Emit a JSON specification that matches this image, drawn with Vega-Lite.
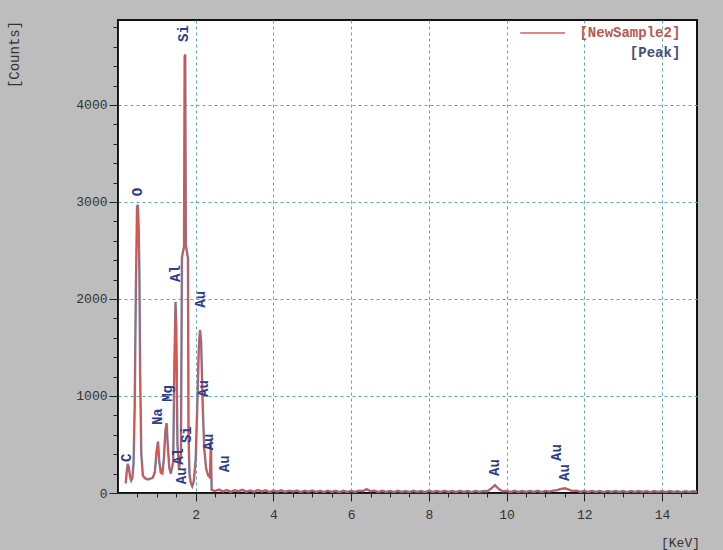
{
  "$schema": "https://vega.github.io/schema/vega-lite/v6.json",
  "autosize": "none",
  "width": 579,
  "height": 473,
  "padding": {"left": 118, "top": 20, "right": 26, "bottom": 57},
  "background": "#bdbdbd",
  "config": {
    "view": {"fill": "#ffffff", "stroke": "#111111", "strokeWidth": 2},
    "axis": {
      "labelFont": "Liberation Mono",
      "labelFontSize": 13,
      "labelColor": "#333333",
      "labelOverlap": false,
      "titleFont": "Liberation Mono",
      "titleFontSize": 14,
      "titleFontWeight": "normal",
      "titleColor": "#333333",
      "domainColor": "#222222",
      "tickColor": "#222222",
      "gridColor": "#5aa6c8",
      "gridDash": [3, 3],
      "gridWidth": 1
    }
  },
  "datasets": {
    "spectrum": [
      {"keV": 0.20, "counts": 100}, {"keV": 0.22, "counts": 200}, {"keV": 0.25, "counts": 300},
      {"keV": 0.28, "counts": 260}, {"keV": 0.31, "counts": 170}, {"keV": 0.34, "counts": 130},
      {"keV": 0.37, "counts": 160}, {"keV": 0.40, "counts": 300}, {"keV": 0.43, "counts": 900},
      {"keV": 0.46, "counts": 2100}, {"keV": 0.49, "counts": 2950}, {"keV": 0.51, "counts": 2970},
      {"keV": 0.53, "counts": 2750}, {"keV": 0.55, "counts": 2300}, {"keV": 0.57, "counts": 1200},
      {"keV": 0.60, "counts": 400}, {"keV": 0.64, "counts": 180}, {"keV": 0.70, "counts": 150},
      {"keV": 0.78, "counts": 140}, {"keV": 0.85, "counts": 150}, {"keV": 0.90, "counts": 160},
      {"keV": 0.95, "counts": 220}, {"keV": 0.99, "counts": 420}, {"keV": 1.03, "counts": 530},
      {"keV": 1.06, "counts": 330}, {"keV": 1.10, "counts": 210}, {"keV": 1.14, "counts": 200},
      {"keV": 1.18, "counts": 350}, {"keV": 1.22, "counts": 640}, {"keV": 1.25, "counts": 720},
      {"keV": 1.28, "counts": 500}, {"keV": 1.32, "counts": 260}, {"keV": 1.36, "counts": 200},
      {"keV": 1.42, "counts": 320}, {"keV": 1.45, "counts": 1300}, {"keV": 1.48, "counts": 1970},
      {"keV": 1.50, "counts": 1700}, {"keV": 1.53, "counts": 500}, {"keV": 1.57, "counts": 250},
      {"keV": 1.62, "counts": 400}, {"keV": 1.645, "counts": 2430}, {"keV": 1.70, "counts": 2540},
      {"keV": 1.715, "counts": 4500}, {"keV": 1.73, "counts": 4520}, {"keV": 1.745, "counts": 2560},
      {"keV": 1.80, "counts": 2420}, {"keV": 1.815, "counts": 600}, {"keV": 1.84, "counts": 200},
      {"keV": 1.87, "counts": 110}, {"keV": 1.91, "counts": 70}, {"keV": 1.95, "counts": 120},
      {"keV": 2.00, "counts": 350}, {"keV": 2.04, "counts": 900}, {"keV": 2.08, "counts": 1500},
      {"keV": 2.11, "counts": 1680}, {"keV": 2.14, "counts": 1550}, {"keV": 2.18, "counts": 900},
      {"keV": 2.22, "counts": 450}, {"keV": 2.27, "counts": 250}, {"keV": 2.32, "counts": 180},
      {"keV": 2.37, "counts": 160}, {"keV": 2.39, "counts": 560}, {"keV": 2.41, "counts": 30},
      {"keV": 2.5, "counts": 22}, {"keV": 2.6, "counts": 35}, {"keV": 2.7, "counts": 15},
      {"keV": 2.8, "counts": 30}, {"keV": 2.9, "counts": 12}, {"keV": 3.0, "counts": 28},
      {"keV": 3.1, "counts": 18}, {"keV": 3.2, "counts": 32}, {"keV": 3.3, "counts": 14},
      {"keV": 3.4, "counts": 26}, {"keV": 3.5, "counts": 12}, {"keV": 3.6, "counts": 30},
      {"keV": 3.7, "counts": 16}, {"keV": 3.8, "counts": 27}, {"keV": 3.9, "counts": 10},
      {"keV": 4.0, "counts": 25}, {"keV": 4.1, "counts": 14}, {"keV": 4.2, "counts": 28},
      {"keV": 4.3, "counts": 12}, {"keV": 4.4, "counts": 24}, {"keV": 4.5, "counts": 15},
      {"keV": 4.6, "counts": 26}, {"keV": 4.7, "counts": 10}, {"keV": 4.8, "counts": 24},
      {"keV": 4.9, "counts": 13}, {"keV": 5.0, "counts": 25}, {"keV": 5.1, "counts": 12},
      {"keV": 5.2, "counts": 22}, {"keV": 5.3, "counts": 10}, {"keV": 5.4, "counts": 24},
      {"keV": 5.5, "counts": 12}, {"keV": 5.6, "counts": 22}, {"keV": 5.7, "counts": 9},
      {"keV": 5.8, "counts": 23}, {"keV": 5.9, "counts": 12}, {"keV": 6.0, "counts": 22},
      {"keV": 6.1, "counts": 11}, {"keV": 6.2, "counts": 24}, {"keV": 6.3, "counts": 20},
      {"keV": 6.4, "counts": 40}, {"keV": 6.5, "counts": 18}, {"keV": 6.6, "counts": 24},
      {"keV": 6.7, "counts": 10}, {"keV": 6.8, "counts": 22}, {"keV": 6.9, "counts": 12},
      {"keV": 7.0, "counts": 21}, {"keV": 7.1, "counts": 9}, {"keV": 7.2, "counts": 22},
      {"keV": 7.3, "counts": 11}, {"keV": 7.4, "counts": 20}, {"keV": 7.5, "counts": 10},
      {"keV": 7.6, "counts": 23}, {"keV": 7.7, "counts": 12}, {"keV": 7.8, "counts": 20},
      {"keV": 7.9, "counts": 9}, {"keV": 8.0, "counts": 22}, {"keV": 8.1, "counts": 11},
      {"keV": 8.2, "counts": 21}, {"keV": 8.3, "counts": 10}, {"keV": 8.4, "counts": 22},
      {"keV": 8.5, "counts": 12}, {"keV": 8.6, "counts": 20}, {"keV": 8.7, "counts": 10},
      {"keV": 8.8, "counts": 22}, {"keV": 8.9, "counts": 11}, {"keV": 9.0, "counts": 20},
      {"keV": 9.1, "counts": 9}, {"keV": 9.2, "counts": 21}, {"keV": 9.3, "counts": 12},
      {"keV": 9.4, "counts": 20}, {"keV": 9.5, "counts": 18}, {"keV": 9.6, "counts": 45},
      {"keV": 9.7, "counts": 80}, {"keV": 9.8, "counts": 40}, {"keV": 9.9, "counts": 18},
      {"keV": 10.0, "counts": 21}, {"keV": 10.1, "counts": 10}, {"keV": 10.2, "counts": 22},
      {"keV": 10.3, "counts": 11}, {"keV": 10.4, "counts": 20}, {"keV": 10.5, "counts": 10},
      {"keV": 10.6, "counts": 21}, {"keV": 10.7, "counts": 12}, {"keV": 10.8, "counts": 22},
      {"keV": 10.9, "counts": 10}, {"keV": 11.0, "counts": 22}, {"keV": 11.1, "counts": 14},
      {"keV": 11.2, "counts": 25}, {"keV": 11.3, "counts": 30}, {"keV": 11.4, "counts": 42},
      {"keV": 11.5, "counts": 48}, {"keV": 11.6, "counts": 35}, {"keV": 11.7, "counts": 20},
      {"keV": 11.8, "counts": 24}, {"keV": 11.9, "counts": 12}, {"keV": 12.0, "counts": 22},
      {"keV": 12.1, "counts": 10}, {"keV": 12.2, "counts": 21}, {"keV": 12.3, "counts": 12},
      {"keV": 12.4, "counts": 20}, {"keV": 12.5, "counts": 9}, {"keV": 12.6, "counts": 21},
      {"keV": 12.7, "counts": 11}, {"keV": 12.8, "counts": 20}, {"keV": 12.9, "counts": 10},
      {"keV": 13.0, "counts": 20}, {"keV": 13.1, "counts": 9}, {"keV": 13.2, "counts": 21},
      {"keV": 13.3, "counts": 11}, {"keV": 13.4, "counts": 20}, {"keV": 13.5, "counts": 10},
      {"keV": 13.6, "counts": 19}, {"keV": 13.7, "counts": 9}, {"keV": 13.8, "counts": 20},
      {"keV": 13.9, "counts": 10}, {"keV": 14.0, "counts": 19}, {"keV": 14.1, "counts": 9},
      {"keV": 14.2, "counts": 20}, {"keV": 14.3, "counts": 10}, {"keV": 14.4, "counts": 18},
      {"keV": 14.5, "counts": 9}, {"keV": 14.6, "counts": 19}, {"keV": 14.7, "counts": 10},
      {"keV": 14.8, "counts": 18}, {"keV": 14.9, "counts": 12}
    ],
    "peaks": [
      {"label": "C", "keV": 0.24, "counts": 320},
      {"label": "O", "keV": 0.51, "counts": 3060},
      {"label": "Na", "keV": 1.02, "counts": 700},
      {"label": "Mg", "keV": 1.29, "counts": 940},
      {"label": "Al", "keV": 1.49, "counts": 2175},
      {"label": "Si", "keV": 1.69, "counts": 4650},
      {"label": "Au", "keV": 2.13, "counts": 1910},
      {"label": "Al", "keV": 1.56, "counts": 290},
      {"label": "Au", "keV": 1.64, "counts": 90},
      {"label": "Si", "keV": 1.77, "counts": 515},
      {"label": "Au", "keV": 2.22, "counts": 990},
      {"label": "Au", "keV": 2.33, "counts": 440},
      {"label": "Au", "keV": 2.75, "counts": 215},
      {"label": "Au", "keV": 9.69, "counts": 175},
      {"label": "Au", "keV": 11.31, "counts": 330},
      {"label": "Au", "keV": 11.51, "counts": 124}
    ],
    "legendLine": [
      {"keV": 10.35, "keV2": 11.5, "counts": 4742}
    ],
    "legendText": [
      {"text": "[NewSample2]", "keV": 14.47, "counts": 4742, "kind": "series"},
      {"text": "[Peak]", "keV": 14.47, "counts": 4536, "kind": "peak"}
    ]
  },
  "layer": [
    {
      "data": {"name": "spectrum"},
      "mark": {"type": "line", "color": "#7a7f98", "strokeWidth": 2.4, "clip": true},
      "encoding": {
        "x": {
          "field": "keV", "type": "quantitative",
          "scale": {"domain": [0, 14.9], "nice": false, "zero": false},
          "axis": {
            "title": "[KeV]",
            "titleX": 562, "titleY": 49, "titleAlign": "center", "titleBaseline": "middle", "titleFontSize": 13,
            "values": [0.5, 1, 1.5, 2, 2.5, 3, 3.5, 4, 4.5, 5, 5.5, 6, 6.5, 7, 7.5, 8, 8.5, 9, 9.5, 10, 10.5, 11, 11.5, 12, 12.5, 13, 13.5, 14, 14.5],
            "tickCount": 200,
            "labelExpr": "datum.value % 2 === 0 ? '' + datum.value : ''",
            "tickSize": {"condition": {"test": "datum.value % 2 === 0", "value": 8}, "value": 4},
            "labelPadding": 7,
            "labelFlush": false,
            "gridOpacity": {"condition": {"test": "datum.value % 2 === 0", "value": 1}, "value": 0}
          }
        },
        "y": {
          "field": "counts", "type": "quantitative",
          "scale": {"domain": [0, 4876], "nice": false},
          "axis": {
            "title": "[Counts]",
            "titleAngle": 270, "titleX": -104, "titleY": 34, "titleAlign": "center", "titleBaseline": "middle",
            "values": [0, 200, 400, 600, 800, 1000, 1200, 1400, 1600, 1800, 2000, 2200, 2400, 2600, 2800, 3000, 3200, 3400, 3600, 3800, 4000, 4200, 4400, 4600, 4800],
            "tickCount": 200,
            "labelExpr": "datum.value % 1000 === 0 ? '' + datum.value : ''",
            "tickSize": {"condition": {"test": "datum.value % 1000 === 0", "value": 9}, "value": 5},
            "labelPadding": 2,
            "labelFlush": false,
            "gridOpacity": {"condition": {"test": "datum.value % 1000 === 0 && datum.value > 0", "value": 1}, "value": 0}
          }
        }
      }
    },
    {
      "data": {"name": "spectrum"},
      "mark": {"type": "line", "color": "#e0504a", "strokeWidth": 1.2, "clip": true},
      "encoding": {
        "x": {"field": "keV", "type": "quantitative"},
        "y": {"field": "counts", "type": "quantitative"}
      }
    },
    {
      "data": {"name": "peaks"},
      "mark": {"type": "text", "angle": 270, "align": "left", "baseline": "middle", "font": "Liberation Mono", "fontSize": 14, "fontWeight": "bold", "color": "#2b3d8c"},
      "encoding": {
        "x": {"field": "keV", "type": "quantitative"},
        "y": {"field": "counts", "type": "quantitative"},
        "text": {"field": "label"}
      }
    },
    {
      "data": {"name": "legendLine"},
      "mark": {"type": "rule", "color": "#d0605a", "strokeWidth": 1.5},
      "encoding": {
        "x": {"field": "keV", "type": "quantitative"},
        "x2": {"field": "keV2"},
        "y": {"field": "counts", "type": "quantitative"}
      }
    },
    {
      "data": {"name": "legendText"},
      "mark": {"type": "text", "align": "right", "baseline": "middle", "font": "Liberation Mono", "fontSize": 14, "fontWeight": "bold"},
      "encoding": {
        "x": {"field": "keV", "type": "quantitative"},
        "y": {"field": "counts", "type": "quantitative"},
        "text": {"field": "text"},
        "color": {"field": "kind", "type": "nominal", "scale": {"domain": ["series", "peak"], "range": ["#b8584f", "#44507a"]}, "legend": null}
      }
    }
  ]
}
